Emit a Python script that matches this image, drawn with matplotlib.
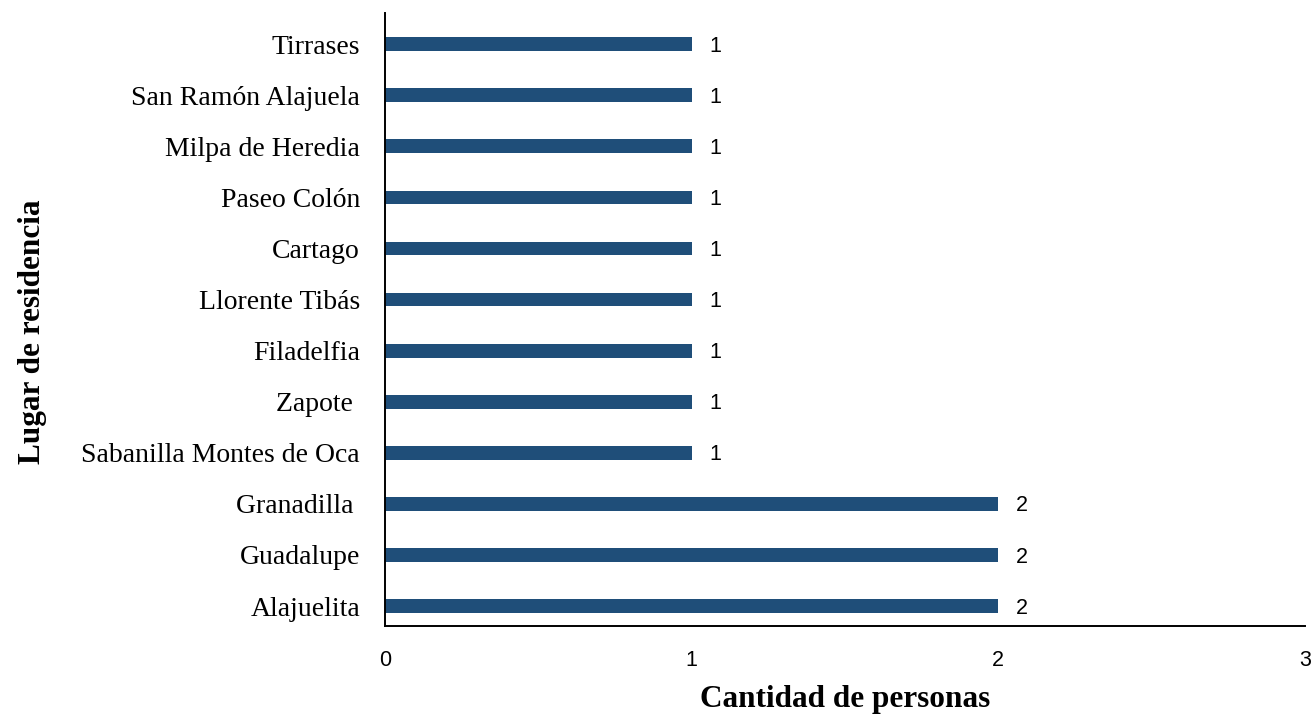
import matplotlib.pyplot as plt
import numpy as np

# Lugar de residencia (de abajo hacia arriba)
lugares = [
    "Alajuelita",
    "Guadalupe",
    "Granadilla ",
    "Sabanilla Montes de Oca",
    "Zapote ",
    "Filadelfia",
    "Llorente Tibás",
    "Cartago",
    "Paseo Colón",
    "Milpa de Heredia",
    "San Ramón Alajuela",
    "Tirrases",
]
personas = [2, 2, 2, 1, 1, 1, 1, 1, 1, 1, 1, 1]
x_ticks = [0, 1, 2, 3]

bar_color = "#1F4E79"
serif = ["Liberation Serif", "DejaVu Serif"]
sans = ["Liberation Sans", "DejaVu Sans"]

fig = plt.figure(figsize=(13.16, 7.15), dpi=100)
ax = fig.add_axes([0.2926, 0.1245, 0.699, 0.8573])

y = np.arange(len(lugares))
bars = ax.barh(y, personas, height=0.27, color=bar_color)

for rect, v in zip(bars, personas):
    ax.annotate(str(v), xy=(rect.get_width(), rect.get_y() + rect.get_height() / 2),
                xytext=(13, -1.5), textcoords="offset points",
                ha="left", va="center", fontsize=15.5, family=sans, color="black")

ax.set_xlim(0, 3)
ax.set_ylim(-0.39, 11.61)
ax.set_xticks(x_ticks)
ax.set_xticklabels([str(t) for t in x_ticks], family=sans, fontsize=15.5)
ax.set_yticks(y)
ax.set_yticklabels(lugares, family=serif, fontsize=20)
ax.tick_params(axis="x", length=0, pad=17)
ax.tick_params(axis="y", length=0, pad=18)

for s in ["top", "right"]:
    ax.spines[s].set_visible(False)
for s in ["left", "bottom"]:
    ax.spines[s].set_linewidth(1.4)
    ax.spines[s].set_color("black")

ax.set_xlabel("Cantidad de personas", family=serif, fontsize=22.5,
              fontweight="bold")
ax.xaxis.set_label_coords(0.5, -0.097)
ax.set_ylabel("Lugar de residencia", family=serif, fontsize=22.5,
              fontweight="bold")
ax.yaxis.set_label_coords(-0.368, 0.48)

fig.savefig("out.png", dpi=100)
